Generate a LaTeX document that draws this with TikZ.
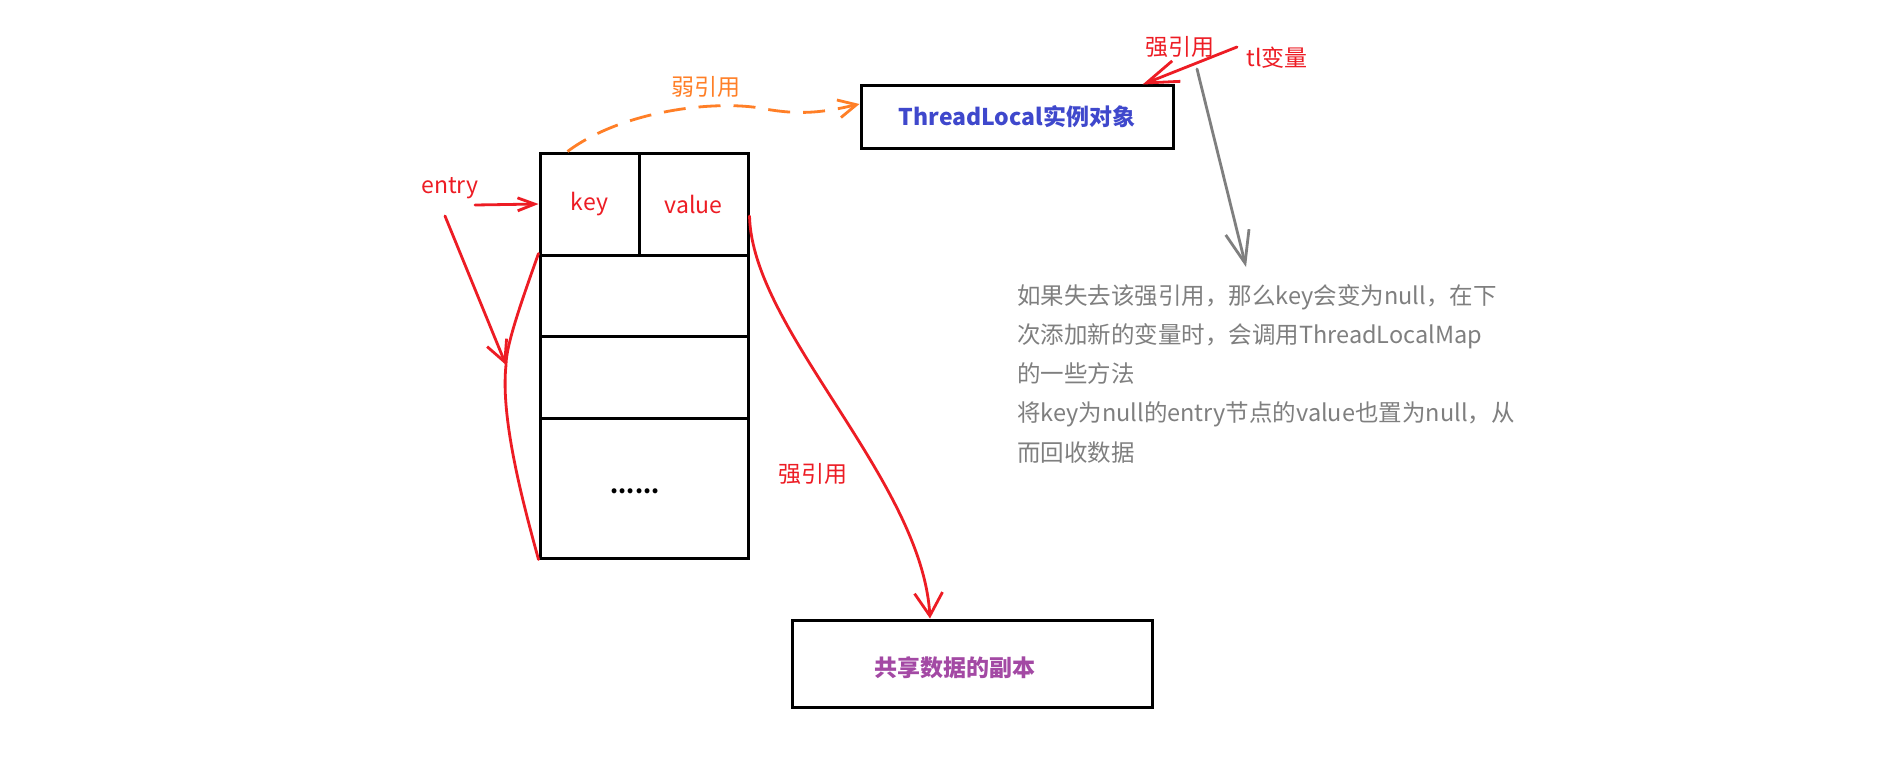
\documentclass[tikz,border=0pt]{standalone}
\usepackage{fontspec}
\setmainfont{Noto Sans CJK SC}
\usetikzlibrary{arrows.meta}
\definecolor{pRed}{HTML}{ED1C24}
\definecolor{pOrange}{HTML}{FF7F27}
\definecolor{pBlue}{HTML}{3F48CC}
\definecolor{pPurple}{HTML}{A349A4}
\definecolor{pGray}{HTML}{7F7F7F}

\begin{document}
\begin{tikzpicture}[x=1pt,y=-1pt]

    \tikzset{CB/.style={draw=black,line width=3pt,rectangle,inner sep=0pt}}
    \tikzset{RT/.style={text=pRed,font=\fontsize{23}{28}\selectfont,inner sep=0pt}}
    \tikzset{BT/.style={font=\bfseries\fontsize{23}{28}\selectfont,inner sep=0pt}}
    \tikzset{RA/.style={draw=pRed,line width=2.8pt,line cap=round}}
    \tikzset{GA/.style={draw=pGray,line width=2.8pt,line cap=round}}

    \path[fill=white] (0,0) rectangle (1897,773);
    \useasboundingbox (0,0) rectangle (1897,773);

    % entry table
    \node (key) [CB,RT,minimum width=99pt,minimum height=102pt] at (589.5,204) {key};
    \node (val) [CB,RT,minimum width=109pt,minimum height=102pt] at (693.5,204) {value};
    \node (r2) [CB,minimum width=208pt,minimum height=81pt] at (644,295.5) {};
    \node (r3) [CB,minimum width=208pt,minimum height=82pt] at (644,377) {};
    \node (r4) [CB,minimum width=208pt,minimum height=140pt] at (644,488) {};
    \node (dots) [BT,anchor=base] at (635,493) {......};

    % objects
    \node (tl) [CB,BT,text=pBlue,minimum width=312pt,minimum height=62pt] at (1017,117) {ThreadLocal实例对象};
    \node (copy) [CB,minimum width=360pt,minimum height=87pt] at (972,663.5) {};
    \node (copytxt) [BT,text=pPurple] at (955,668) {共享数据的副本};

    % labels
    \node (entry) [RT] at (450,188) {entry};
    \node (weak) [RT,text=pOrange] at (706,87) {弱引用};
    \node (strong1) [RT] at (1180,47) {强引用};
    \node (tlvar) [RT] at (1277,58) {tl变量};
    \node (strong2) [RT] at (813,474) {强引用};

    \node (note) [anchor=base west,align=left,text=pGray,inner sep=0pt,
        font=\fontsize{23.5}{39.25}\selectfont] at (1017,461)
        {如果失去该强引用，那么key会变为null，在下\\
         次添加新的变量时，会调用ThreadLocalMap\\
         的一些方法\\
         将key为null的entry节点的value也置为null，从\\
         而回收数据};

    \coordinate (e1) at (475,205);
    \coordinate (e2) at (445,216);
    \coordinate (etip) at (506,365);
    \coordinate (tlstart) at (1237,47);
    \coordinate (g1) at (1197,69);
    \coordinate (g2) at (1246,267);

    % connectors
    \draw[RA,-{Straight Barb[length=17pt,width=13pt]}] (e1) -- (key.west);
    \draw[RA,-{Straight Barb[length=21pt,width=21pt]}] (e2) -- (etip);
    \draw[RA] (r2.north west) .. controls (522,300) and (506,345) .. (etip)
        .. controls (500,420) and (525,510) .. (r4.south west);
    \draw[RA,-{Straight Barb[length=23pt,width=28pt]}] ([yshift=-12pt]val.east)
        .. controls (752,330) and (922,480) .. ([xshift=-42pt]copy.north);
    \draw[draw=pOrange,line width=2.8pt,dash pattern=on 22pt off 13pt,
        -{Straight Barb[length=18pt,width=18pt]}] ([xshift=-22pt]key.north)
        .. controls (620,112) and (710,100) .. (760,108)
        .. controls (800,116) and (825,112) .. ([yshift=13pt]tl.west);
    \draw[RA,-{Straight Barb[length=32pt,width=22pt]}] (tlstart) -- ([xshift=-32pt]tl.north east);
    \draw[GA,-{Straight Barb[length=32pt,width=24pt]}] (g1) -- (g2);
\end{tikzpicture}
\end{document}
